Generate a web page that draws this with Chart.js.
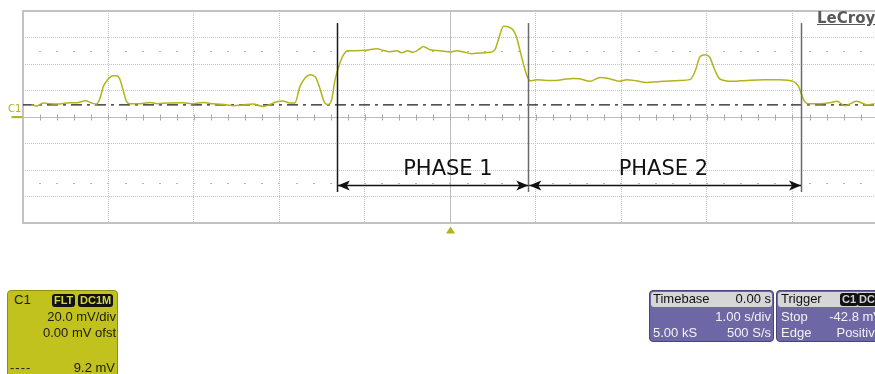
<!DOCTYPE html>
<html>
<head>
<meta charset="utf-8">
<title>C1 capture</title>
<script src="https://cdn.jsdelivr.net/npm/chart.js@4/dist/chart.umd.min.js"></script>
<style>
  html, body { margin: 0; padding: 0; background: #fff; overflow: hidden; }
  #scope { position: relative; width: 875px; height: 374px; overflow: hidden;
           font-family: "Liberation Sans", Arial, sans-serif; }
  #scope canvas { position: absolute; left: 0; top: 0; }
  .logo { position: absolute; left: 817px; top: 9px; font: bold 15px "DejaVu Sans", sans-serif;
          color: #5a5a5a; text-decoration: underline; white-space: nowrap; }
  .box { position: absolute; box-sizing: border-box; border-radius: 4px; overflow: hidden; }
  .t { position: absolute; font-size: 13px; line-height: 16px; white-space: nowrap; }
  .badge { position: absolute; top: 3px; height: 13px; line-height: 13px; font-size: 11px; font-weight: bold;
           background: #111; border-radius: 3px; padding: 0 2px; white-space: nowrap; }
</style>
</head>
<body>
<div id="scope">
  <canvas id="chart" width="875" height="374"></canvas>
  <div class="logo">LeCroy</div>

  <!-- channel 1 descriptor -->
  <div class="box" style="left:7px; top:290px; width:111px; height:95px; background:#c2c21f; border:1px solid #8f8f12;">
    <div class="t" style="left:6px; top:1px; color:#1a1a1a;">C1</div>
    <div class="badge" style="left:44px; color:#d6d640;">FLT</div>
    <div class="badge" style="left:70px; color:#d6d640;">DC1M</div>
    <div class="t" style="right:1px; top:18px; color:#1a1a1a;">20.0 mV/div</div>
    <div class="t" style="right:1px; top:34px; color:#1a1a1a;">0.00 mV ofst</div>
    <div class="t" style="left:2px; top:69px; color:#1a1a1a; letter-spacing:1px;">----</div>
    <div class="t" style="right:2px; top:69px; color:#1a1a1a;">9.2 mV</div>
  </div>

  <!-- timebase descriptor -->
  <div class="box" style="left:649px; top:290px; width:125px; height:52px; background:#6e67a5; border:1px solid #4a4478;">
    <div style="position:absolute; left:1px; top:1px; width:121px; height:15px; background:#d6d6d6; border-radius:3px;"></div>
    <div class="t" style="left:3px; top:0px; color:#111;">Timebase</div>
    <div class="t" style="right:2px; top:0px; color:#111;">0.00 s</div>
    <div class="t" style="right:2px; top:18px; color:#f2f2f2;">1.00 s/div</div>
    <div class="t" style="left:3px; top:34px; color:#f2f2f2;">5.00 kS</div>
    <div class="t" style="right:2px; top:34px; color:#f2f2f2;">500 S/s</div>
  </div>

  <!-- trigger descriptor -->
  <div class="box" style="left:776px; top:290px; width:110px; height:52px; background:#6e67a5; border:1px solid #4a4478;">
    <div style="position:absolute; left:1px; top:1px; width:106px; height:15px; background:#d6d6d6; border-radius:3px;"></div>
    <div class="t" style="left:4px; top:0px; color:#111;">Trigger</div>
    <div class="badge" style="left:63px; top:2px; color:#d0d0d0;">C1</div>
    <div class="badge" style="left:80px; top:2px; color:#d0d0d0;">DC</div>
    <div class="t" style="left:4px; top:18px; color:#f2f2f2;">Stop</div>
    <div class="t" style="right:3px; top:18px; color:#f2f2f2;">-42.8 mV</div>
    <div class="t" style="left:4px; top:34px; color:#f2f2f2;">Edge</div>
    <div class="t" style="right:3px; top:34px; color:#f2f2f2;">Positive</div>
  </div>
</div>

<script>
// Channel 1 record: time in seconds, amplitude in mV
const traceTime = [
  -4.90, -4.84, -4.76, -4.68, -4.59, -4.49, -4.37, -4.27, -4.20, -4.14,
  -4.10, -4.06, -4.00, -3.95, -3.90, -3.87, -3.83, -3.79, -3.75, -3.63,
  -3.51, -3.43, -3.32, -3.13, -3.01, -2.89, -2.78, -2.61, -2.54, -2.43,
  -2.31, -2.19, -2.11, -2.03, -1.96, -1.88, -1.82, -1.76, -1.64, -1.58,
  -1.53, -1.47, -1.43, -1.39, -1.35, -1.30, -1.25, -1.20, -1.12, -0.99,
  -0.86, -0.79, -0.71, -0.63, -0.57, -0.50, -0.44, -0.36, -0.32, -0.24,
  -0.12,  0.00,  0.08,  0.15,  0.25,  0.35,  0.46,  0.52,  0.56,  0.62,
   0.68,  0.73,  0.77,  0.81,  0.85,  0.89,  0.93,  1.01,  1.12,  1.23,
   1.35,  1.44,  1.51,  1.63,  1.75,  1.87,  1.98,  2.06,  2.17,  2.29,
   2.49,  2.68,  2.80,  2.86,  2.92,  2.98,  3.03,  3.09,  3.15,  3.30,
   3.46,  3.66,  3.85,  4.01,  4.07,  4.13,  4.18,  4.32,  4.44,  4.52,
   4.61,  4.75,  4.87,  4.96
];
const traceMv = [
   9.3,  8.3, 10.6, 10.0,  9.8, 10.6, 10.8, 12.3, 10.6,  9.8,
  14.0, 23.1, 28.9, 31.2, 31.2, 28.9, 20.6, 11.8, 10.0, 10.0,
  11.0, 10.0, 10.6, 10.8, 10.0, 11.0, 10.0,  9.1,  8.5,  9.1,
   9.8,  8.0,  9.5, 11.5, 12.1, 10.6, 10.6, 23.1, 31.9, 30.2,
  22.1, 10.6,  9.5, 13.1, 28.2, 39.5, 47.0, 50.0, 50.0, 50.3,
  51.5, 50.3, 49.3, 50.0, 48.5, 50.0, 48.8, 51.5, 53.3, 50.8,
  50.0, 49.1, 50.0, 49.1, 47.8, 48.3, 48.8, 50.8, 58.3, 68.4,
  67.9, 65.9, 60.8, 50.8, 40.8, 31.9, 27.4, 28.2, 27.6, 27.6,
  28.7, 29.1, 28.9, 26.9, 29.9, 28.7, 26.9, 28.2, 27.4, 26.1,
  26.9, 27.6, 28.2, 34.4, 45.7, 47.0, 45.3, 35.7, 28.7, 26.9,
  27.6, 28.2, 28.2, 26.9, 23.1, 13.1, 10.0, 10.0, 10.8, 11.8,
   8.5, 11.8,  9.3, 10.0
];

// 1.00 s/div horizontal, 20.0 mV/div vertical, centred on 0
const timeTicks = [-5, -4, -3, -2, -1, 0, 1, 2, 3, 4, 5];
const voltTicks = [-80, -60, -40, -20, 0, 20, 40, 60, 80];
const triggerLevelMv = 9.2;

// Phase boundaries (s) and their names
const phaseEdges = [-1.33, 0.91, 4.10];
const phaseNames = ['PHASE 1', 'PHASE 2'];

const traceColor = '#b3b31c';

// Screen graticule: centre cross with 0.2-div marks, dotted rows at ±2.5 div, outer frame
const graticule = {
  id: 'graticule',
  beforeDatasetsDraw(chart) {
    const { ctx, chartArea: a, scales: { x, y } } = chart;
    const cx = Math.round(x.getPixelForValue(0)) + 0.5;
    const cy = Math.round(y.getPixelForValue(0)) + 0.5;
    ctx.save();
    ctx.lineWidth = 1;
    ctx.strokeStyle = '#bdbdbd';
    ctx.beginPath();
    ctx.moveTo(a.left, cy); ctx.lineTo(a.right, cy);
    ctx.moveTo(cx, a.top); ctx.lineTo(cx, a.bottom);
    ctx.stroke();

    ctx.strokeStyle = '#a9a9a9';
    ctx.beginPath();
    for (let i = -25; i <= 25; i++) {
      const px = Math.round(x.getPixelForValue(i / 5)) + 0.5;
      if (px > a.right) break;
      ctx.moveTo(px, cy - 3); ctx.lineTo(px, cy + 3);
    }
    ctx.stroke();

    ctx.fillStyle = '#b5b5b5';
    for (const v of [50, -50]) {
      const py = Math.round(y.getPixelForValue(v));
      for (let i = -25; i <= 25; i++) {
        const px = Math.round(x.getPixelForValue(i / 5));
        if (px > a.right) break;
        ctx.fillRect(px - 1, py, 2, 1);
      }
    }

    ctx.strokeStyle = '#c2c2c2';
    ctx.lineWidth = 2;
    ctx.beginPath();
    ctx.moveTo(a.right + 2, a.top); ctx.lineTo(a.left, a.top);
    ctx.lineTo(a.left, a.bottom); ctx.lineTo(a.right + 2, a.bottom);
    ctx.stroke();
    ctx.restore();
  }
};

// Phase markers, double arrows and names
const phaseMarks = {
  id: 'phaseMarks',
  afterDatasetsDraw(chart) {
    const { ctx, scales: { x, y } } = chart;
    const yTop = y.getPixelForValue(70.9);
    const yBot = y.getPixelForValue(-56.6);
    const yArrow = Math.round(y.getPixelForValue(-51.6)) + 0.5;
    const yText = y.getPixelForValue(-44.1);
    const lineColors = ['#1a1a1a', '#6a6a6a', '#6a6a6a'];
    const labelTimes = [-0.03, 2.49];
    ctx.save();
    phaseEdges.forEach((t, i) => {
      const px = Math.round(x.getPixelForValue(t)) + 0.5;
      ctx.strokeStyle = lineColors[i];
      ctx.lineWidth = 1.5;
      ctx.beginPath(); ctx.moveTo(px, yTop); ctx.lineTo(px, yBot); ctx.stroke();
    });
    const head = (tip, dir) => {
      ctx.beginPath();
      ctx.moveTo(tip, yArrow);
      ctx.lineTo(tip - dir * 12, yArrow - 5);
      ctx.lineTo(tip - dir * 9, yArrow);
      ctx.lineTo(tip - dir * 12, yArrow + 5);
      ctx.closePath();
      ctx.fill();
    };
    ctx.strokeStyle = '#111';
    ctx.fillStyle = '#111';
    ctx.lineWidth = 1.3;
    for (let i = 0; i < phaseNames.length; i++) {
      const x1 = x.getPixelForValue(phaseEdges[i]) + 1;
      const x2 = x.getPixelForValue(phaseEdges[i + 1]);
      ctx.beginPath(); ctx.moveTo(x1, yArrow); ctx.lineTo(x2, yArrow); ctx.stroke();
      head(x1, -1);
      head(x2, 1);
      ctx.font = '21px "DejaVu Sans", sans-serif';
      ctx.textAlign = 'center';
      ctx.textBaseline = 'alphabetic';
      ctx.fillText(phaseNames[i], x.getPixelForValue(labelTimes[i]), yText);
    }
    ctx.restore();
  }
};

// Channel ground marker on the left and trigger-time marker under the grid
const channelMarks = {
  id: 'channelMarks',
  afterDraw(chart) {
    const { ctx, chartArea: a, scales: { x, y } } = chart;
    const gy = y.getPixelForValue(0);
    const tx = x.getPixelForValue(0);
    ctx.save();
    ctx.fillStyle = traceColor;
    ctx.font = '10px "DejaVu Sans", sans-serif';
    ctx.textAlign = 'left';
    ctx.textBaseline = 'alphabetic';
    ctx.fillText('C1', 8, gy - 5);
    ctx.fillRect(11.5, gy - 1, 11, 2.2);
    ctx.beginPath();
    ctx.moveTo(tx, a.bottom + 3.5);
    ctx.lineTo(tx - 4.5, a.bottom + 10.5);
    ctx.lineTo(tx + 4.5, a.bottom + 10.5);
    ctx.closePath();
    ctx.fill();
    ctx.restore();
  }
};

new Chart(document.getElementById('chart'), {
  type: 'line',
  data: {
    datasets: [
      {
        label: 'C1',
        data: traceTime.map((t, i) => ({ x: t, y: traceMv[i] })),
        borderColor: traceColor,
        borderWidth: 1.5,
        pointRadius: 0,
        cubicInterpolationMode: 'monotone',
        order: 0
      },
      {
        label: 'Trigger level',
        data: [{ x: timeTicks[0], y: triggerLevelMv }, { x: timeTicks[timeTicks.length - 1], y: triggerLevelMv }],
        borderColor: '#1c1c1c',
        borderWidth: 1.3,
        borderDash: [11, 5, 3, 5],
        pointRadius: 0,
        order: 1
      }
    ]
  },
  options: {
    responsive: false,
    devicePixelRatio: 1,
    animation: false,
    events: [],
    layout: { padding: { left: 23, top: 11, right: 0, bottom: 151 } },
    plugins: { legend: { display: false }, tooltip: { enabled: false } },
    scales: {
      x: {
        type: 'linear',
        min: -5,
        max: 4.965,
        afterBuildTicks: s => { s.ticks = timeTicks.map(v => ({ value: v })); },
        ticks: { display: false },
        grid: { drawTicks: false, color: '#c2c2c2', lineWidth: 1 },
        border: { display: false, dash: [1, 1] }
      },
      y: {
        type: 'linear',
        min: voltTicks[0],
        max: voltTicks[voltTicks.length - 1],
        afterBuildTicks: s => { s.ticks = voltTicks.map(v => ({ value: v })); },
        ticks: { display: false },
        grid: { drawTicks: false, color: '#c2c2c2', lineWidth: 1 },
        border: { display: false, dash: [1, 1] }
      }
    }
  },
  plugins: [graticule, phaseMarks, channelMarks]
});
</script>
</body>
</html>
